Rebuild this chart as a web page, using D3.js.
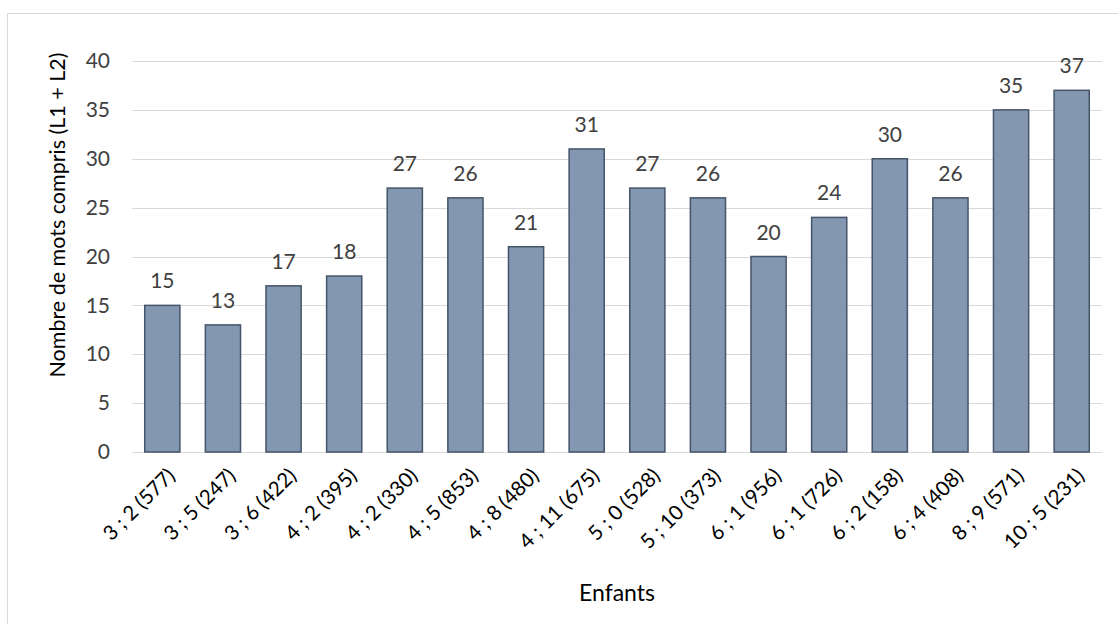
<!DOCTYPE html>
<html>
<head>
<meta charset="utf-8">
<script src="https://cdn.jsdelivr.net/npm/d3@7"></script>
<style>
  html, body { margin: 0; padding: 0; background: #fff; }
  svg { display: block; font-family: Lato, "Open Sans", sans-serif; }
</style>
</head>
<body>
<svg id="chart" width="1118" height="624"></svg>
<script>
// Children (age ; months (id)) and number of understood words
const categories = [
  "3 ; 2 (577)", "3 ; 5 (247)", "3 ; 6 (422)", "4 ; 2 (395)",
  "4 ; 2 (330)", "4 ; 5 (853)", "4 ; 8 (480)", "4 ; 11 (675)",
  "5 ; 0 (528)", "5 ; 10 (373)", "6 ; 1 (956)", "6 ; 1 (726)",
  "6 ; 2 (158)", "6 ; 4 (408)", "8 ; 9 (571)", "10 ; 5 (231)"
];
const values = [15, 13, 17, 18, 27, 26, 21, 31, 27, 26, 20, 24, 30, 26, 35, 37];
const yTicks = [0, 5, 10, 15, 20, 25, 30, 35, 40];
const xTitle = "Enfants";
const yTitle = "Nombre de mots compris (L1 + L2)";

const svg = d3.select("#chart");
const plot = { left: 132, right: 1102, top: 61, bottom: 452 };

// chart area frame
svg.append("rect")
  .attr("x", 7.5).attr("y", 13.5)
  .attr("width", 1200).attr("height", 700)
  .attr("fill", "#fff").attr("stroke", "#d9d9d9").attr("stroke-width", 1);

const x = d3.scaleBand()
  .domain(categories)
  .range([plot.left, plot.right])
  .paddingInner(0.42)
  .paddingOuter(0.21);

const y = d3.scaleLinear()
  .domain([0, 40])
  .range([plot.bottom, plot.top]);

// horizontal gridlines
svg.append("g")
  .selectAll("line")
  .data(yTicks)
  .join("line")
  .attr("x1", plot.left).attr("x2", plot.right)
  .attr("y1", d => Math.round(y(d)) + 0.5)
  .attr("y2", d => Math.round(y(d)) + 0.5)
  .attr("stroke", "#d9d9d9").attr("stroke-width", 1);

// y axis labels
const yAxis = d3.axisLeft(y).tickValues(yTicks).tickSize(0).tickPadding(0);
const gy = svg.append("g")
  .attr("transform", `translate(110,0)`)
  .call(yAxis);
gy.select(".domain").remove();
gy.selectAll("text")
  .attr("font-size", 21).attr("fill", "#404040")
  .attr("font-family", "Lato, 'Open Sans', sans-serif");

// bars
svg.append("g")
  .selectAll("rect")
  .data(values)
  .join("rect")
  .attr("x", (d, i) => x(categories[i]))
  .attr("y", d => y(d))
  .attr("width", x.bandwidth())
  .attr("height", d => y(0) - y(d))
  .attr("fill", "#8497b0")
  .attr("stroke", "#44546a")
  .attr("stroke-width", 1.5);

// value labels above bars
svg.append("g")
  .selectAll("text")
  .data(values)
  .join("text")
  .attr("x", (d, i) => x(categories[i]) + x.bandwidth() / 2)
  .attr("y", d => y(d) - 17)
  .attr("text-anchor", "middle")
  .attr("font-size", 21)
  .attr("fill", "#404040")
  .text(d => d);

// x axis category labels, rotated
const xAxis = d3.axisBottom(x).tickSize(0).tickPadding(0);
const gx = svg.append("g")
  .attr("transform", `translate(0,${plot.bottom})`)
  .call(xAxis);
gx.select(".domain").remove();
gx.selectAll("text")
  .attr("font-size", 20.5)
  .attr("fill", "#000")
  .attr("font-family", "Lato, 'Open Sans', sans-serif")
  .attr("text-anchor", "end")
  .attr("dy", null)
  .attr("transform", "translate(14,25) rotate(-45)");

// axis titles
svg.append("text")
  .attr("x", 617).attr("y", 601)
  .attr("text-anchor", "middle")
  .attr("font-size", 23)
  .attr("fill", "#000")
  .text(xTitle);

svg.append("text")
  .attr("transform", "translate(65,215) rotate(-90)")
  .attr("text-anchor", "middle")
  .attr("font-size", 21.5)
  .attr("fill", "#000")
  .text(yTitle);
</script>
</body>
</html>
